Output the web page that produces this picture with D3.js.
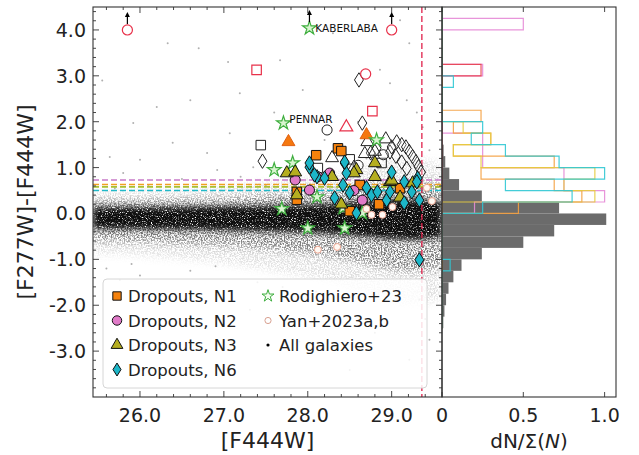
<!DOCTYPE html>
<html><head><meta charset="utf-8">
<script src="https://cdn.jsdelivr.net/npm/d3@7"></script>
<style>body{margin:0;background:#fff}svg{display:block;font-family:"DejaVu Sans",sans-serif}</style>
</head><body><svg id="c" width="639" height="455"></svg>
<script>
// ---------------- DATA ----------------
const xTicks = [26, 27, 28, 29];
const xTickLabels = ["26.0", "27.0", "28.0", "29.0"];
const yTicks = [4, 3, 2, 1, 0, -1, -2, -3];
const yTickLabels = ["4.0", "3.0", "2.0", "1.0", "0.0", "-1.0", "-2.0", "-3.0"];
const hTicks = [0, 0.5, 1.0];
const hTickLabels = ["0", "0.5", "1.0"];

// All-galaxies cloud envelopes
const cloudX  = [25.44, 25.8, 26.3, 26.8, 27.3, 27.8, 28.3, 28.7, 29.0, 29.3, 29.6];
const coreLo  = [-0.34,-0.34,-0.35,-0.36,-0.38,-0.40,-0.44,-0.50,-0.56,-0.58,-0.52];
const coreHi  = [0.14, 0.14, 0.14, 0.15, 0.16, 0.18, 0.21, 0.26, 0.30, 0.30, 0.26];
const midLo   = [-0.60,-0.60,-0.64,-0.68,-0.74,-0.82,-0.94,-1.08,-1.22,-1.27,-1.17];
const midHi   = [0.28, 0.28, 0.30, 0.32, 0.36, 0.42, 0.50, 0.60, 0.70, 0.70, 0.62];
const haloLo  = [-0.88,-0.88,-0.95,-1.03,-1.15,-1.30,-1.50,-1.75,-1.98,-2.03,-1.83];
const haloHi  = [0.48, 0.48, 0.50, 0.54, 0.62, 0.72, 0.84, 1.02, 1.22, 1.22, 1.07];
// sparse outlying galaxies
const sparseX = [26.33,27.05,27.67,28.30,29.10,29.21,26.20,25.92,26.60,27.19,26.00,25.64,26.39,26.80,27.07,27.35,26.92,25.80,27.94,28.98,29.18,29.37,29.45,28.86,
                 26.71,27.90,28.86,29.21,26.12,27.31,29.33,29.45,28.50,25.76,26.50,27.20,27.80,28.30,28.70,29.00,29.20,26.10,25.70,27.50,28.90,29.40,29.50,29.50,29.45,29.52,
                 25.55,26.7,27.6,28.2,28.6,29.3,26.4,27.0,25.6,26.0,26.6,27.4,28.1,28.8,29.4,25.9,26.9,27.7];
const sparseY = [3.71,3.30,3.34,3.93,4.21,3.71,2.32,1.97,2.47,2.62,1.17,1.23,1.54,1.32,1.75,1.01,0.95,0.88,2.69,2.84,2.47,1.88,1.38,3.13,
                 -2.46,-2.79,-2.32,-3.19,-1.88,-2.10,-1.88,-2.75,-3.41,-1.45,0.75,0.80,1.10,0.90,1.20,1.00,0.70,0.60,0.55,0.60,0.50,0.90,0.30,-0.50,-1.00,-1.30,
                 2.9,3.6,2.2,1.6,2.0,2.2,-3.0,-3.5,-1.2,-1.35,-1.25,-1.5,-1.7,-2.6,-2.3,-1.1,-1.15,-1.6];

// Detection thresholds (dashed lines)
const threshNames  = ["N2", "N1", "N3", "N6"];
const threshValues = [0.73, 0.63, 0.58, 0.50];
const magLimit = 29.36;

// Markers
const redCircles   = [[25.85,4.0],[29.0,4.0],[28.69,3.04]];
const redSquares   = [[27.39,3.13],[28.77,2.23]];
const redTriangles = [[28.46,1.88]];
const upperLimits  = [[25.85,4.0],[28.02,4.04],[29.0,4.0]];
const rodighiero   = [[28.02,4.04],[27.71,1.97],[27.60,0.95],[28.82,1.60],[27.82,1.10],[27.69,0.10],[28.00,-0.32],[28.44,-0.32],[28.65,0.01],[28.11,0.36],[28.42,0.12]];
const blackSquares = [[27.44,1.49],[28.88,1.10],[28.12,0.99],[28.50,1.18]];
const blackCircles = [[28.23,1.82],[28.90,1.28],[28.60,1.05]];
const blackDiamonds= [[28.61,2.91],[28.65,1.97],[27.46,1.14],[29.06,1.56],[29.12,1.50],[29.17,1.45],[29.21,1.35],[29.25,1.24],[29.29,1.13],[29.32,1.02],[29.35,0.90],
                      [28.98,1.34],[29.05,1.25],[29.12,1.12],[29.18,0.98],[28.75,1.32],[28.82,1.42],[29.00,1.45]];
const blackTriangles=[[28.29,1.21],[28.71,1.56],[28.93,1.62],[28.68,1.30],[28.80,1.35],[28.55,1.00]];
const orangeTriangles=[[27.77,1.56],[28.70,1.71]];
const n1 = [[28.10,1.27],[28.36,1.42],[28.40,1.36],[27.87,0.47],[27.87,0.30],[28.62,0.62],[29.10,0.55],[28.85,0.20],[28.50,0.05]];
const n2 = [[28.02,0.51],[28.26,0.88],[27.85,0.73],[28.65,0.29],[28.12,0.80],[28.55,0.50]];
const n3 = [[27.75,0.88],[27.85,0.90],[28.29,0.80],[28.58,0.95],[28.80,0.80],[28.98,0.69],[29.25,0.66],[27.87,0.40],[28.80,1.10],[28.55,0.88],[29.00,0.72],[28.40,0.20],[29.10,0.35]];
const n6 = [[28.02,1.01],[28.11,0.80],[28.20,0.77],[28.44,1.10],[28.46,0.88],[28.42,0.62],[28.32,0.34],[28.50,0.45],[28.58,0.01],[28.70,0.56],[28.76,0.40],
            [28.83,0.47],[28.94,0.29],[29.00,0.90],[28.98,0.47],[29.15,0.23],[29.24,0.47],[29.31,0.77],[29.33,0.29],[29.33,-1.01],[28.02,1.10],[28.08,0.84],
            [28.44,1.12],[29.15,0.69],[29.30,0.69]];
const yan = [[29.42,0.56],[29.48,0.27],[29.01,0.14],[28.89,-0.03],[28.76,-0.03],[28.35,-0.73],[28.12,-0.79],[28.70,0.10]];
const labels = [{t:"KABERLABA", x:28.09, y:4.04}, {t:"PENNAR", x:27.78, y:2.05}];

// Histograms: [bin lower edge, dN/Σ(N)], bin width 0.25
const histAll = [[-2.5,0.008],[-2.25,0.015],[-2.0,0.025],[-1.75,0.04],[-1.5,0.07],[-1.25,0.12],[-1.0,0.245],[-0.75,0.5],[-0.5,0.69],[-0.25,1.01],[0,0.72],[0.25,0.245],[0.5,0.105],[0.75,0.045],[1.0,0.02],[1.25,0.01]];
const histPink   = [[0,0.2],[0.25,1.0],[0.5,0.75],[0.75,0.75],[1.0,0.25],[1.25,0.25],[1.5,0.25],[3.0,0.25],[4.0,0.5]];
const histRed    = [[3.0,0.24]];
const histOrange = [[0,0.47],[0.25,0.86],[0.5,0.69],[0.75,0.24],[1.0,0.69],[1.25,0.07],[1.5,0.3],[1.75,0.07],[2.0,0.24]];
const histYellow = [[0.25,0.94],[0.5,0.75],[0.75,0.94],[1.0,0.24],[1.25,0.07],[1.5,0.3],[1.75,0.13]];
const histCyan   = [[-1.25,0.05],[0,0.25],[0.25,0.8],[0.5,0.39],[0.75,1.0],[1.0,0.72],[1.25,0.39],[1.5,0.18],[1.75,0.25],[2.75,0.07]];

// ---------------- DRAW ----------------
const svg = d3.select("#c");
const L = 93, R = 442, T = 7, B = 397, HR = 616;
const xS = d3.scaleLinear().domain([25.44, 29.6]).range([L, R]);
const yS = d3.scaleLinear().domain([-4.0, 4.5]).range([B, T]);
const hS = d3.scaleLinear().domain([0, 1.07]).range([R, HR]);
const BW = 0.25;

const defs = svg.append("defs");
defs.append("clipPath").attr("id","clipMain").append("rect").attr("x",L).attr("y",T).attr("width",R-L).attr("height",B-T);
defs.append("clipPath").attr("id","clipHist").append("rect").attr("x",R).attr("y",T).attr("width",HR-R).attr("height",B-T);
function grainFilter(id, blur, freq, a, b, seed){
  const f = defs.append("filter").attr("id",id).attr("x","-5%").attr("y","-30%").attr("width","110%").attr("height","160%");
  f.append("feGaussianBlur").attr("in","SourceGraphic").attr("stdDeviation",blur).attr("result","b");
  f.append("feTurbulence").attr("type","fractalNoise").attr("baseFrequency",freq).attr("numOctaves",2).attr("seed",seed).attr("result","n");
  f.append("feColorMatrix").attr("in","n").attr("type","matrix").attr("values",`0 0 0 0 0  0 0 0 0 0  0 0 0 0 0  ${a} 0 0 0 ${b}`).attr("result","m");
  f.append("feComposite").attr("in","b").attr("in2","m").attr("operator","in");
}
grainFilter("grainOuter", 4, 0.7, 4, -1.55, 3);
grainFilter("grainCore", 3, 0.8, 5, -1.3, 7);

const main = svg.append("g").attr("clip-path","url(#clipMain)");

// cloud
const areaGen = d3.area().x(d=>xS(d.x)).y0(d=>yS(d.lo)).y1(d=>yS(d.hi)).curve(d3.curveBasis);
const env = (lo,hi)=>cloudX.map((x,i)=>({x,lo:lo[i],hi:hi[i]}));
const outer = main.append("g").attr("filter","url(#grainOuter)");
outer.append("path").datum(env(haloLo,haloHi)).attr("d",areaGen).attr("fill","#000").attr("fill-opacity",0.13);
outer.append("path").datum(env(midLo,midHi)).attr("d",areaGen).attr("fill","#000").attr("fill-opacity",0.45);
main.append("g").attr("filter","url(#grainCore)")
  .append("path").datum(env(coreLo,coreHi)).attr("d",areaGen).attr("fill","#000").attr("fill-opacity",0.92);
main.append("g").selectAll("circle").data(sparseX).join("circle")
  .attr("cx",(d)=>xS(d)).attr("cy",(d,i)=>yS(sparseY[i])).attr("r",1).attr("fill","#b0b0b0");

// threshold lines
const tColors = {N2:"#c87ac8", N1:"#f0a020", N3:"#a8c030", N6:"#20b8c8"};
threshValues.forEach((v,i)=>{
  main.append("line").attr("x1",L).attr("x2",R).attr("y1",yS(v)).attr("y2",yS(v))
    .attr("stroke",tColors[threshNames[i]]).attr("stroke-width",1.6).attr("stroke-dasharray","6,3");
});
main.append("line").attr("x1",xS(magLimit)).attr("x2",xS(magLimit)).attr("y1",T).attr("y2",B)
  .attr("stroke","#e0204a").attr("stroke-width",1.3).attr("stroke-dasharray","6,3");

// symbol helpers
function thinDiamond(h){ const w=h*0.62; return `M0,${-h}L${w},0L0,${h}L${-w},0Z`; }
const sym = {
  square: d3.symbol(d3.symbolSquare, 90)(),
  circle: d3.symbol(d3.symbolCircle, 80)(),
  triangle: d3.symbol(d3.symbolTriangle, 72)(),
  diamond: thinDiamond(7.2),
  star: d3.symbol(d3.symbolStar, 58)(),
  smallCircle: d3.symbol(d3.symbolCircle, 38)()
};
function plot(data, shape, fill, stroke, sw){
  main.append("g").selectAll("path").data(data).join("path")
    .attr("d", sym[shape]).attr("transform", d=>`translate(${xS(d[0])},${yS(d[1])})`)
    .attr("fill", fill).attr("stroke", stroke).attr("stroke-width", sw||1);
}
plot(blackDiamonds,"diamond","rgba(255,255,255,0.25)","#222",1);
plot(blackSquares,"square","rgba(255,255,255,0.25)","#222",1);
plot(blackCircles,"circle","rgba(255,255,255,0.25)","#222",1);
plot(blackTriangles,"triangle","rgba(255,255,255,0.25)","#222",1);
plot(redCircles,"circle","none","#e8314a",1.2);
plot(redSquares,"square","none","#e8314a",1.2);
plot(redTriangles,"triangle","none","#e8314a",1.2);
plot(orangeTriangles,"triangle","#f5780f","#e06010",1);
plot(rodighiero,"star","#d8f5cf","#3fae3f",1.2);
plot(n1,"square","#f5820d","#111",1);
plot(n2,"circle","#e07ac8","#111",1);
plot(n3,"triangle","#b5ae20","#111",1);
plot(n6,"diamond","#1cb6c8","#111",1);
plot(yan,"smallCircle","#fff8f2","#eba48f",1);

// upper-limit arrows
upperLimits.forEach(d=>{
  const x = xS(d[0]), y = yS(d[1]);
  main.append("line").attr("x1",x).attr("x2",x).attr("y1",y-6).attr("y2",y-15).attr("stroke","#000").attr("stroke-width",1.2);
  main.append("path").attr("d",`M${x},${y-18}L${x-2.5},${y-13}L${x+2.5},${y-13}Z`).attr("fill","#000");
});
labels.forEach(l=>{
  main.append("text").attr("x",xS(l.x)).attr("y",yS(l.y)+4).attr("font-size",10.5).attr("fill","#111").text(l.t);
});

// ---------- histogram panel ----------
const hist = svg.append("g").attr("clip-path","url(#clipHist)");
hist.selectAll("rect").data(histAll).join("rect")
  .attr("x",R).attr("y",d=>yS(d[0]+BW)).attr("height",d=>yS(d[0])-yS(d[0]+BW)).attr("width",d=>hS(d[1])-R)
  .attr("fill","#6b6b6b");
const edges = d3.range(-2.5, 4.5, BW);
function stepPath(series){
  const m = new Map(series.map(d=>[Math.round(d[0]*4), d[1]]));
  const pts = [[0, edges[0]]];
  edges.forEach(e=>{ const v = m.get(Math.round(e*4))||0; pts.push([v,e]); pts.push([v,e+BW]); });
  pts.push([0, edges[edges.length-1]+BW]);
  return d3.line().x(p=>hS(p[0])).y(p=>yS(p[1]))(pts);
}
[[histPink,"#e58ad6"],[histRed,"#e8414f"],[histOrange,"#f4a040"],[histYellow,"#e6cc40"],[histCyan,"#30c8d4"]].forEach(([s,c])=>{
  hist.append("path").attr("d",stepPath(s)).attr("fill","none").attr("stroke",c).attr("stroke-width",1.2).attr("stroke-opacity",0.9);
});

// ---------- axes / frames ----------
const axG = svg.append("g").attr("fill","none").attr("stroke","#333");
axG.append("rect").attr("x",L).attr("y",T).attr("width",R-L).attr("height",B-T).attr("stroke-width",1.1);
axG.append("rect").attr("x",R).attr("y",T).attr("width",HR-R).attr("height",B-T).attr("stroke-width",1.1);

const tk = svg.append("g").attr("stroke","#333").attr("stroke-width",0.9);
d3.range(25.6, 29.61, 0.2).forEach(v=>{
  const major = Math.abs(v-Math.round(v))<1e-6; const len = major?6:3; const x = xS(v);
  if (x<=L||x>=R) return;
  tk.append("line").attr("x1",x).attr("x2",x).attr("y1",B).attr("y2",B-len);
  tk.append("line").attr("x1",x).attr("x2",x).attr("y1",T).attr("y2",T+len);
});
d3.range(-3.8, 4.41, 0.2).forEach(v=>{
  const major = Math.abs(v-Math.round(v))<1e-6; const len = major?6:3; const y = yS(v);
  if (y<=T||y>=B) return;
  tk.append("line").attr("x1",L).attr("x2",L+len).attr("y1",y).attr("y2",y);
  tk.append("line").attr("x1",R).attr("x2",R-len).attr("y1",y).attr("y2",y);
});
hTicks.forEach(v=>{
  const x = hS(v);
  tk.append("line").attr("x1",x).attr("x2",x).attr("y1",B).attr("y2",B-5);
  tk.append("line").attr("x1",x).attr("x2",x).attr("y1",T).attr("y2",T+5);
});

const tx = svg.append("g").attr("fill","#222").attr("font-size",19);
xTicks.forEach((v,i)=> tx.append("text").attr("x",xS(v)).attr("y",B+25).attr("text-anchor","middle").text(xTickLabels[i]));
yTicks.forEach((v,i)=> tx.append("text").attr("x",L-7).attr("y",yS(v)+7).attr("text-anchor","end").text(yTickLabels[i]));
hTicks.forEach((v,i)=> tx.append("text").attr("x",hS(v)).attr("y",B+25).attr("text-anchor","middle").text(hTickLabels[i]));

svg.append("text").attr("x",(L+R)/2).attr("y",448).attr("text-anchor","middle").attr("font-size",22).attr("fill","#222").text("[F444W]");
svg.append("text").attr("transform",`translate(33,${(T+B)/2}) rotate(-90)`).attr("text-anchor","middle").attr("font-size",22).attr("fill","#222").text("[F277W]-[F444W]");
const ht = svg.append("text").attr("x",(R+HR)/2).attr("y",448).attr("text-anchor","middle").attr("font-size",20).attr("fill","#222");
ht.append("tspan").text("dN/Σ(");
ht.append("tspan").attr("font-style","italic").text("N");
ht.append("tspan").text(")");

// ---------- legend ----------
const lg = svg.append("g");
lg.append("rect").attr("x",103).attr("y",279).attr("width",324).attr("height",109).attr("rx",4)
  .attr("fill","rgba(255,255,255,0.85)").attr("stroke","#d6d6d6");
const legendItems = [
  {label:"Dropouts, N1", shape:"square", fill:"#f5820d", stroke:"#111", col:0, row:0},
  {label:"Dropouts, N2", shape:"circle", fill:"#e07ac8", stroke:"#111", col:0, row:1},
  {label:"Dropouts, N3", shape:"triangle", fill:"#b5ae20", stroke:"#111", col:0, row:2},
  {label:"Dropouts, N6", shape:"diamond", fill:"#1cb6c8", stroke:"#111", col:0, row:3},
  {label:"Rodighiero+23", shape:"star", fill:"#f4fcf0", stroke:"#3fae3f", col:1, row:0},
  {label:"Yan+2023a,b", shape:"smallCircle", fill:"#fff", stroke:"#d8a090", col:1, row:1},
  {label:"All galaxies", shape:"dot", fill:"#000", stroke:"none", col:1, row:2}
];
const legSym = {
  square: d3.symbol(d3.symbolSquare, 70)(), circle: d3.symbol(d3.symbolCircle, 70)(),
  triangle: d3.symbol(d3.symbolTriangle, 60)(), diamond: thinDiamond(6.5),
  star: d3.symbol(d3.symbolStar, 45)(), smallCircle: d3.symbol(d3.symbolCircle, 30)(),
  dot: d3.symbol(d3.symbolCircle, 8)()
};
legendItems.forEach(it=>{
  const mx = it.col ? 268 : 117, ty = 296 + it.row*24.5;
  lg.append("path").attr("d",legSym[it.shape]).attr("transform",`translate(${mx},${ty})`)
    .attr("fill",it.fill).attr("stroke",it.stroke).attr("stroke-width",1);
  lg.append("text").attr("x",mx+11).attr("y",ty+6).attr("font-size",16.5).attr("fill","#222").text(it.label);
});
</script></body></html>
